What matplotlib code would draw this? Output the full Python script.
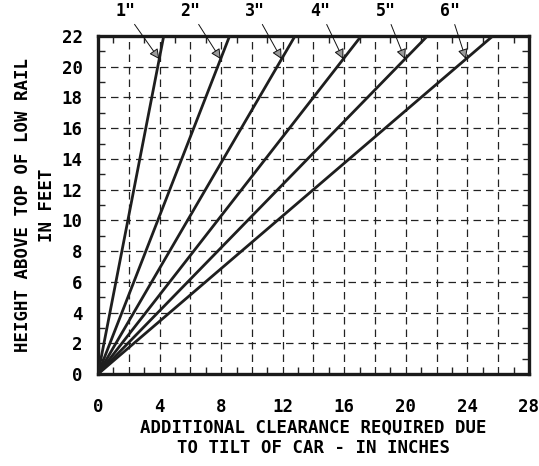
import matplotlib
matplotlib.use('Agg')
import matplotlib.pyplot as plt
from matplotlib.ticker import MultipleLocator, FuncFormatter

# superelevation in inches, clearance (inches) reached at the 22 ft line
superelev = [1, 2, 3, 4, 5, 6]
clear_at_top = [4.27, 8.55, 12.8, 17.1, 21.4, 25.65]
top_height = 22
arrow_height = 20.5
sup_labels = ['1"', '2"', '3"', '4"', '5"', '6"']

plt.rcParams['font.family'] = 'DejaVu Sans Mono'
plt.rcParams['font.weight'] = 'bold'

fig = plt.figure(figsize=(5.39, 4.66), dpi=100)
ax = fig.add_axes([0.1818, 0.1974, 0.7996, 0.7253])

for c in clear_at_top:
    ax.plot([0, c], [0, top_height], color='#1e1e1e', lw=2.0, solid_capstyle='butt', zorder=3)

# label + arrow pointing at each line near the top
for i, (c, lab) in enumerate(zip(clear_at_top, sup_labels)):
    tip_x = c * arrow_height / top_height
    txt_x = tip_x - (2.2 - 0.24 * i)
    ax.annotate(lab, xy=(tip_x, arrow_height), xytext=(txt_x, 23.6),
                ha='center', va='center', fontsize=12, fontweight='bold',
                annotation_clip=False,
                arrowprops=dict(arrowstyle='-|>', fc='#9a9a9a', ec='#111111', lw=0.7,
                                mutation_scale=15, shrinkA=1, shrinkB=0))

ax.set_xlim(0, 28)
ax.set_ylim(0, 22)

ax.xaxis.set_major_locator(MultipleLocator(2))
ax.xaxis.set_minor_locator(MultipleLocator(1))
ax.yaxis.set_major_locator(MultipleLocator(2))
ax.yaxis.set_minor_locator(MultipleLocator(1))
ax.xaxis.set_major_formatter(FuncFormatter(lambda v, p: '%d' % v if int(round(v)) % 4 == 0 else ''))
ax.yaxis.set_major_formatter(FuncFormatter(lambda v, p: '%d' % v))

ax.tick_params(which='both', direction='in', top=True, right=True, width=1, color='#222222')
ax.tick_params(which='major', length=0, labelsize=12.5)
ax.tick_params(axis='x', which='major', pad=17)
ax.tick_params(axis='y', which='major', pad=11)
ax.tick_params(which='minor', length=5)

ax.grid(True, which='major', color='#222222', lw=0.9, linestyle=(0, (6, 4)))

for s in ax.spines.values():
    s.set_linewidth(2.4)
    s.set_color('#1a1a1a')

ax.set_xlabel('ADDITIONAL CLEARANCE REQUIRED DUE\nTO TILT OF CAR - IN INCHES',
              fontsize=12.5, fontweight='bold', labelpad=2, linespacing=1.15)
ax.set_ylabel('HEIGHT ABOVE TOP OF LOW RAIL\nIN FEET',
              fontsize=12.5, fontweight='bold', labelpad=4, linespacing=1.45)

fig.savefig('out.png', dpi=100)
